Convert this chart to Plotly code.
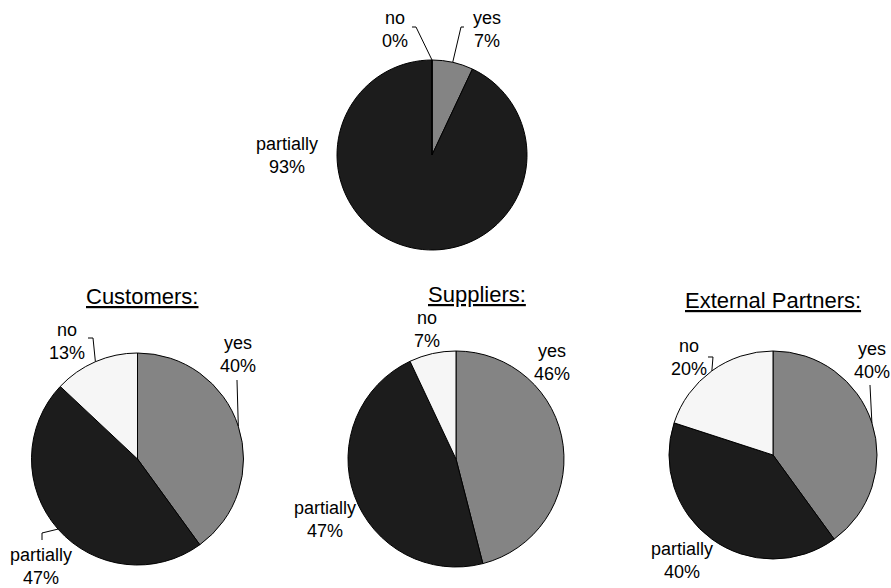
import math
import plotly.graph_objects as go

W, H = 891, 588

# Survey answers, slice order clockwise from 12 o'clock
answers = ["yes", "partially", "no"]
overall = [7, 93, 0]
customers = [40, 47, 13]
suppliers = [46, 47, 7]
partners = [40, 40, 20]

group_titles = ["", "Customers:", "Suppliers:", "External Partners:"]
group_values = [overall, customers, suppliers, partners]

slice_colors = ["#848484", "#1c1c1c", "#f6f6f6"]
FONT = "Liberation Sans, Arial, sans-serif"

# Pie placement in pixels: centre x, centre y, radius
pie_geom = [
    (432, 155, 95),
    (137.5, 459, 106),
    (456, 459, 108),
    (773, 455, 104),
]
title_pos = [None, (142, 297), (477, 295), (773, 300)]

# Label block centres per pie, keyed by answer
label_pos = [
    {"yes": (487, 29), "partially": (287, 155), "no": (395, 29)},
    {"yes": (238, 354), "partially": (41, 566), "no": (67, 341)},
    {"yes": (552, 362), "partially": (325, 519), "no": (427, 329)},
    {"yes": (872, 360), "partially": (682, 560), "no": (689, 357)},
]

# Leader lines: bend points near the label, ending on the slice edge
leaders = [
    (0, "no", [(412, 27), (416, 27)]),
    (0, "yes", [(464, 27), (461, 27)]),
    (1, "no", [(88, 338), (93, 338)]),
    (1, "yes", [(237, 380)]),
    (1, "partially", [(42, 540), (42, 533)]),
    (3, "no", [(708, 357), (713, 357)]),
    (3, "yes", [(870, 385)]),
]


def px(x, y):
    return x / W, 1 - y / H


def edge_point(gi, answer):
    vals = group_values[gi]
    total = sum(vals)
    i = answers.index(answer)
    start = sum(vals[:i]) / total
    mid = start + vals[i] / total / 2
    ang = 2 * math.pi * mid
    cx, cy, r = pie_geom[gi]
    return cx + r * math.sin(ang), cy - r * math.cos(ang)


fig = go.Figure()
annotations = []
shapes = []

for gi, vals in enumerate(group_values):
    cx, cy, r = pie_geom[gi]
    x0, y1 = px(cx - r, cy - r)
    x1, y0 = px(cx + r, cy + r)
    fig.add_trace(go.Pie(
        labels=answers,
        values=vals,
        sort=False,
        direction="clockwise",
        rotation=0,
        textinfo="none",
        hoverinfo="label+percent",
        marker=dict(colors=slice_colors, line=dict(color="#000000", width=1)),
        domain=dict(x=[x0, x1], y=[y0, y1]),
        showlegend=False,
    ))

    total = sum(vals)
    for ans, v in zip(answers, vals):
        lx, ly = label_pos[gi][ans]
        ax, ay = px(lx, ly)
        annotations.append(dict(
            x=ax, y=ay, xref="paper", yref="paper",
            text=f"{ans}<br>{round(100 * v / total)}%",
            showarrow=False, align="center",
            xanchor="center", yanchor="middle",
            font=dict(family=FONT, size=18, color="#000000"),
        ))

    if group_titles[gi]:
        tx, ty = title_pos[gi]
        ax, ay = px(tx, ty)
        annotations.append(dict(
            x=ax, y=ay, xref="paper", yref="paper",
            text=f"<u>{group_titles[gi]}</u>",
            showarrow=False, xanchor="center", yanchor="middle",
            font=dict(family=FONT, size=22, color="#000000"),
        ))

for gi, ans, pts in leaders:
    path_pts = [px(x, y) for x, y in pts] + [px(*edge_point(gi, ans))]
    d = "M " + " L ".join(f"{x:.5f},{y:.5f}" for x, y in path_pts)
    shapes.append(dict(type="path", path=d, xref="paper", yref="paper",
                       line=dict(color="#000000", width=1)))

fig.update_layout(
    width=W, height=H,
    margin=dict(l=0, r=0, t=0, b=0),
    paper_bgcolor="#ffffff",
    plot_bgcolor="#ffffff",
    annotations=annotations,
    shapes=shapes,
)

fig.write_html("out.html")
